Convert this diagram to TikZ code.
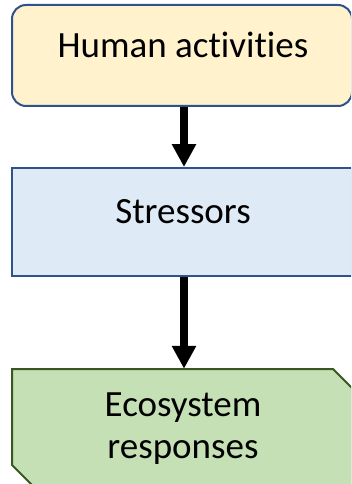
\documentclass[tikz,border=0pt]{standalone}
\usepackage{fontspec}
\setmainfont{Carlito}[Ligatures={NoCommon}]
\usetikzlibrary{arrows.meta}
\definecolor{humfill}{HTML}{FFF2CC}
\definecolor{strfill}{HTML}{DEEBF7}
\definecolor{ecofill}{HTML}{C5E0B4}
\definecolor{blueline}{HTML}{2F528F}
\definecolor{greenline}{HTML}{385723}
\tikzset{
  boxbase/.style={line width=2pt, inner sep=0pt, minimum width=340pt},
  humbox/.style={boxbase, draw=blueline, fill=humfill, rounded corners=14pt, minimum height=101pt},
  strbox/.style={boxbase, draw=blueline, fill=strfill, minimum height=108pt},
  ecoshape/.style={line width=2pt, draw=greenline, fill=ecofill, line join=miter},
  lbl/.style={font=\fontsize{37}{42}\selectfont, align=center, inner sep=0pt},
  flow/.style={line width=8pt, -{Triangle[width=23pt,length=23pt]}}
}
\begin{document}
\begin{tikzpicture}[x=1pt,y=-1pt]
\useasboundingbox (0,0) rectangle (351,484);
\clip (0,0) rectangle (351,484);
\node[humbox] (hum) at (182,55.5) {};
\node[strbox] (str) at (182,222) {};
\draw[ecoshape] (12,369) -- (333,369) -- (352,388) -- (352,490) -- (37,490) -- (12,465) -- cycle;
\node[inner sep=0pt, minimum width=340pt, minimum height=120pt] (eco) at (182,429) {};
\node[lbl] (humt) at (183,45) {Human activities};
\node[lbl] (strt) at (183,212) {Stressors};
\node[lbl] (ecot) at (183,429) {Ecosystem\\responses};
\draw[flow] ([xshift=2pt]hum.south) -- ([xshift=2pt]str.north);
\draw[flow] ([xshift=2pt]str.south) -- ([xshift=2pt]eco.north);
\end{tikzpicture}
\end{document}
